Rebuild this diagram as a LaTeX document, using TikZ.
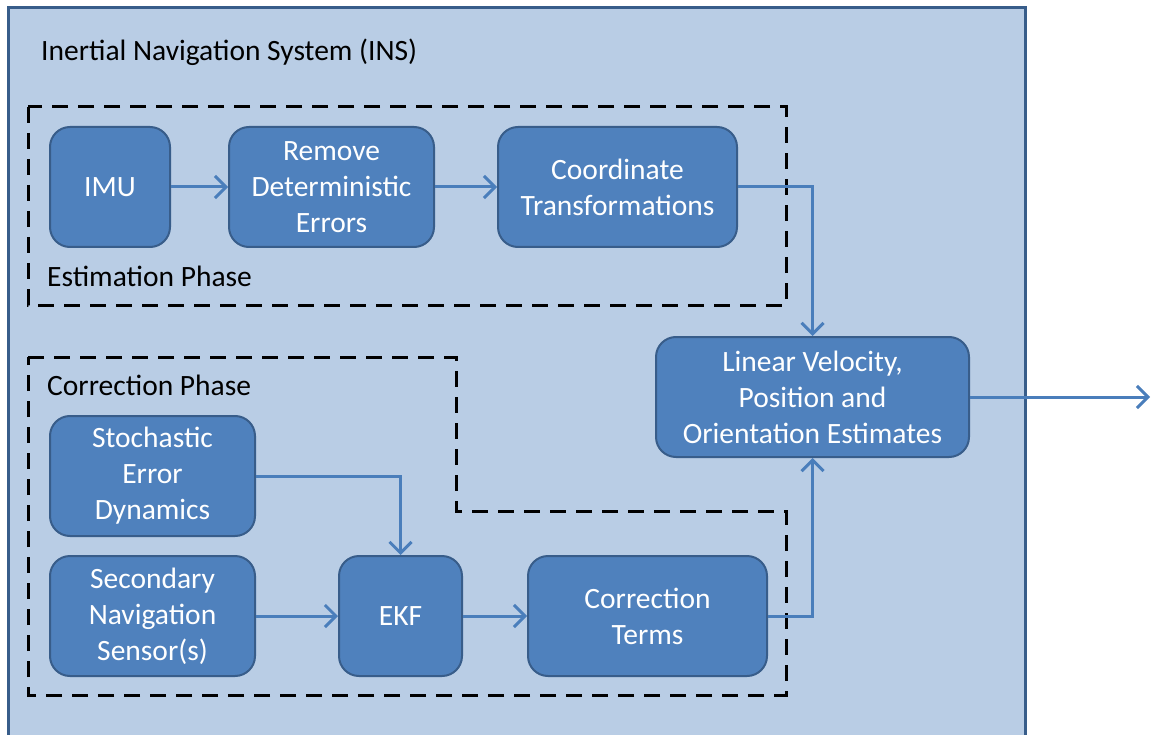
\documentclass[tikz,border=0pt]{standalone}
\usepackage{fontspec}
\setmainfont{Carlito}
\usetikzlibrary{arrows.meta}
\definecolor{insfill}{RGB}{185,205,229}
\definecolor{insedge}{RGB}{56,93,138}
\definecolor{blockfill}{RGB}{79,129,189}
\definecolor{flow}{RGB}{74,126,187}
\tikzset{
  block/.style={draw=insedge, line width=2pt, fill=blockfill, rounded corners=20pt,
    text=white, align=center, inner sep=0pt,
    font=\fontsize{29.5}{36}\selectfont},
  flowline/.style={draw=flow, line width=3pt,
    -{Straight Barb[length=11pt,width=22pt,line width=3pt]}},
  phase/.style={draw=black, line width=3pt, dash pattern=on 16pt off 10pt},
  caption/.style={anchor=base west, inner sep=0pt, text=black,
    font=\fontsize{29.5}{36}\selectfont}
}
\begin{document}
\begin{tikzpicture}[x=1pt,y=-1pt]
\useasboundingbox (0,0) rectangle (1153,735);
\clip (0,0) rectangle (1153,735);
% enclosing system
\draw[draw=insedge, fill=insfill, line width=3pt] (8.5,7.5) rectangle (1025.5,760);
\node[caption] (title) at (41,61) {Inertial Navigation System (INS)};

% phase outlines
\draw[phase] (28,107) rectangle (786,305);
\draw[phase] (28,357) -- (456,357) -- (456,511) -- (786,511) -- (786,695) -- (28,695) -- cycle;
\node[caption] (est) at (47,286) {Estimation Phase};
\node[caption] (corr) at (47,395) {Correction Phase};

% blocks
\node[block, minimum width=120pt, minimum height=120pt] (imu) at (110,187) {IMU};
\node[block, minimum width=205pt, minimum height=120pt] (rde) at (331.5,187) {Remove\\Deterministic\\Errors};
\node[block, minimum width=239pt, minimum height=120pt] (ct) at (617.5,187) {Coordinate\\Transformations};
\node[block, minimum width=313pt, minimum height=120pt] (out) at (812.5,397) {Linear Velocity,\\Position and\\Orientation Estimates};
\node[block, minimum width=205pt, minimum height=120pt] (sed) at (152.5,476) {Stochastic\\Error\\Dynamics};
\node[block, minimum width=205pt, minimum height=120pt] (sns) at (152.5,616) {Secondary\\Navigation\\Sensor(s)};
\node[block, minimum width=123pt, minimum height=120pt] (ekf) at (400.5,616) {EKF};
\node[block, minimum width=239pt, minimum height=120pt] (terms) at (647.5,616) {Correction\\Terms};
\coordinate (exit) at (1150,397);

% signal flow
\draw[flowline] (imu) -- (rde);
\draw[flowline] (rde) -- (ct);
\draw[flowline] (ct.east) -| (out.north);
\draw[flowline] (sed.east) -| (ekf.north);
\draw[flowline] (sns) -- (ekf);
\draw[flowline] (ekf) -- (terms);
\draw[flowline] (terms.east) -| (out.south);
\draw[flowline] (out.east) -- (exit);
\end{tikzpicture}
\end{document}
